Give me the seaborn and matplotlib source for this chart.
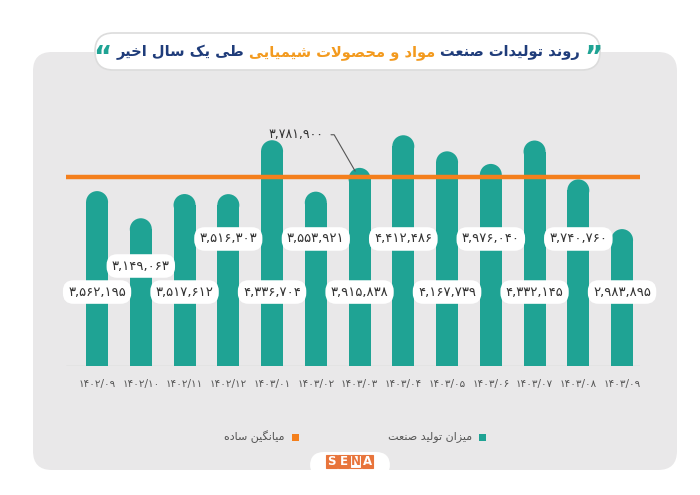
import numpy as np
import pandas as pd
import seaborn as sns
import matplotlib
matplotlib.use("Agg")
import matplotlib.pyplot as plt
from matplotlib.patches import FancyBboxPatch, Rectangle
from matplotlib import transforms

# data
months = ["1402/09", "1402/10", "1402/11", "1402/12", "1403/01", "1403/02", "1403/03",
          "1403/04", "1403/05", "1403/06", "1403/07", "1403/08", "1403/09"]
production = [3562195, 3149063, 3517612, 3516303, 4336704, 3553921, 3915838,
              4412486, 4167739, 3976040, 4332145, 3740760, 2983895]
average = 3781900

title_parts = ["روند تولیدات صنعت", "مواد و محصولات شیمیایی", "طی یک سال اخیر"]
legend_labels = ["میزان تولید صنعت", "میانگین ساده"]

TEAL = "#1fa394"
ORANGE = "#f47f1c"
BLUE = "#1f3c7a"
TITLE_ORANGE = "#f39a1e"
PANEL = "#e9e8e9"
GREY_TXT = "#555555"

# simple persian shaping (presentation forms + rtl)
FORMS = {
    'ا': ('\uFE8D', '\uFE8E'), 'د': ('\uFEA9', '\uFEAA'), 'ر': ('\uFEAD', '\uFEAE'),
    'ز': ('\uFEAF', '\uFEB0'), 'و': ('\uFEED', '\uFEEE'),
    'ت': ('\uFE95', '\uFE96', '\uFE97', '\uFE98'), 'ح': ('\uFEA1', '\uFEA2', '\uFEA3', '\uFEA4'),
    'خ': ('\uFEA5', '\uFEA6', '\uFEA7', '\uFEA8'), 'س': ('\uFEB1', '\uFEB2', '\uFEB3', '\uFEB4'),
    'ش': ('\uFEB5', '\uFEB6', '\uFEB7', '\uFEB8'), 'ص': ('\uFEB9', '\uFEBA', '\uFEBB', '\uFEBC'),
    'ط': ('\uFEC1', '\uFEC2', '\uFEC3', '\uFEC4'), 'ع': ('\uFEC9', '\uFECA', '\uFECB', '\uFECC'),
    'ل': ('\uFEDD', '\uFEDE', '\uFEDF', '\uFEE0'), 'م': ('\uFEE1', '\uFEE2', '\uFEE3', '\uFEE4'),
    'ن': ('\uFEE5', '\uFEE6', '\uFEE7', '\uFEE8'), 'ه': ('\uFEE9', '\uFEEA', '\uFEEB', '\uFEEC'),
    'ی': ('\uFBFC', '\uFBFD', '\uFBFE', '\uFBFF'), 'ک': ('\uFB8E', '\uFB8F', '\uFB90', '\uFB91'),
    'گ': ('\uFB92', '\uFB93', '\uFB94', '\uFB95'),
}


def shape(s):
    out = []
    i = 0
    while i < len(s):
        c = s[i]
        if c not in FORMS:
            out.append(c)
            i += 1
            continue
        prev = s[i - 1] if i > 0 else None
        prev_joins = prev in FORMS and len(FORMS[prev]) == 4
        if c == 'ل' and i + 1 < len(s) and s[i + 1] == 'ا':
            out.append('\uFEFC' if prev_joins else '\uFEFB')
            i += 2
            continue
        nxt = s[i + 1] if i + 1 < len(s) else None
        f = FORMS[c]
        next_joins = len(f) == 4 and nxt in FORMS
        if prev_joins and next_joins:
            g = f[3]
        elif prev_joins:
            g = f[1]
        elif next_joins:
            g = f[2]
        else:
            g = f[0]
        out.append(g)
        i += 1
    return "".join(reversed(out))


FA_DIGITS = str.maketrans("0123456789", "۰۱۲۳۴۵۶۷۸۹")


def fa(s):
    return str(s).translate(FA_DIGITS)


sns.set_theme(style="white")
plt.rcParams['font.family'] = ['DejaVu Sans']

W, H = 700, 495
fig = plt.figure(figsize=(7, 4.95), dpi=100)
fig.patch.set_facecolor("white")

# background panel
panel = FancyBboxPatch((33 / W, 1 - 470 / H), (677 - 33) / W, (470 - 52) / H,
                       boxstyle="round,pad=0,rounding_size=0.027", transform=fig.transFigure,
                       fc=PANEL, ec="none", mutation_aspect=W / H, zorder=-2)
fig.patches.append(panel)

ax = fig.add_axes([66 / W, 1 - 366 / H, 574 / W, 245.7 / H])
ax.set_facecolor("none")

y0, y1 = 900000, 4640000
df = pd.DataFrame({"month": months, "value": production})
sns.barplot(data=df, x="month", y="value", color=TEAL, width=0.5, saturation=1,
            ax=ax, zorder=2)
ax.set_xlim(-0.71, 12.41)
ax.set_ylim(y0, y1)

# rounded caps
axh_px = 245.7
r_px = 11
r_data = r_px * (y1 - y0) / axh_px
for p, v in zip(ax.patches, production):
    p.set_height(v - r_data - p.get_y())
    p.set_edgecolor("none")
ax.scatter(range(len(production)), np.array(production) - r_data, s=(2 * r_px * 0.72) ** 2,
           color=TEAL, edgecolor="none", zorder=3)

ax.axhline(average, color=ORANGE, lw=3.2, zorder=4)
ax.axhline(y0, color="#cfcfcf", lw=1, zorder=1)

for s in ax.spines.values():
    s.set_visible(False)
ax.set_xlabel("")
ax.set_ylabel("")
ax.set_yticks([])
ax.set_xticks(range(len(months)))
ax.set_xticklabels([fa(m) for m in months], fontsize=7.5, color=GREY_TXT)
ax.tick_params(axis="x", length=0, pad=9)

# value labels
blend = transforms.blended_transform_factory(ax.transData, ax.transAxes)
for i, v in enumerate(production):
    if i % 2 == 0:
        ly = 0.301
    elif v < 3300000:
        ly = 0.407
    else:
        ly = 0.517
    ax.text(i, ly, fa(f"{v:,}"), transform=blend, ha="center", va="center",
            fontsize=9.5, color="#333333", zorder=6,
            bbox=dict(boxstyle="round,pad=0.4,rounding_size=0.8", fc="white", ec="none"))

# average label
ax.annotate(fa(f"{average:,}"), xy=(5.9, average + 0.5 * r_data), xytext=(4.55, 4420000),
            ha="center", va="center", fontsize=9, color="#333333", zorder=6,
            arrowprops=dict(arrowstyle="-", color="#555555", lw=0.8,
                            connectionstyle="angle,angleA=0,angleB=120,rad=0",
                            shrinkA=3, shrinkB=0))

# title pill
pill = FancyBboxPatch((95 / W, 1 - 70 / H), (600 - 95) / W, 37 / H,
                      boxstyle="round,pad=0,rounding_size=0.026", transform=fig.transFigure,
                      fc="white", ec="#dcdcdc", lw=1.2, mutation_aspect=W / H, zorder=1)
fig.patches.append(pill)

renderer = fig.canvas.get_renderer()
ty = 1 - 52 / H
pieces = [("\u201c", TEAL, 20), (shape(title_parts[2]), BLUE, 10.5),
          (shape(title_parts[1]), TITLE_ORANGE, 10.5), (shape(title_parts[0]), BLUE, 10.5),
          ("\u201d", TEAL, 20)]
texts = []
widths = []
for s, c, fs in pieces:
    t = fig.text(0, ty, s, color=c, fontsize=fs, fontweight="bold", ha="left",
                 va="center", zorder=3)
    texts.append(t)
    widths.append(t.get_window_extent(renderer).width)
gap = 5
total = sum(widths) + gap * (len(widths) - 1)
x = 348 - total / 2
for t, w in zip(texts, widths):
    t.set_x(x / W)
    x += w + gap
texts[0].set_y(ty - 0.012)
texts[-1].set_y(ty - 0.012)

# legend
ly = 1 - 437 / H
fig.patches.append(Rectangle((479 / W, ly - 3.5 / H), 7 / W, 7 / H, transform=fig.transFigure,
                             fc=TEAL, ec="none"))
fig.text(472 / W, ly, shape(legend_labels[0]), ha="right", va="center", fontsize=8,
         color=GREY_TXT)
fig.patches.append(Rectangle((292 / W, ly - 3.5 / H), 7 / W, 7 / H, transform=fig.transFigure,
                             fc=ORANGE, ec="none"))
fig.text(285 / W, ly, shape(legend_labels[1]), ha="right", va="center", fontsize=8,
         color=GREY_TXT)

# logo
logo = FancyBboxPatch((310 / W, 1 - 478 / H), 80 / W, 26 / H,
                      boxstyle="round,pad=0,rounding_size=0.02", transform=fig.transFigure,
                      fc="white", ec="none", mutation_aspect=W / H, zorder=1)
fig.patches.append(logo)
for k, ch in enumerate("SENA"):
    x0 = 326 + k * 12
    fc = "white" if ch == "N" else "#e8743b"
    tc = "#e8743b" if ch == "N" else "white"
    fig.patches.append(Rectangle((x0 / W, 1 - 468 / H), 11 / W, 13 / H, transform=fig.transFigure,
                                 fc=fc, ec="#e8743b", lw=0.8, zorder=2))
    fig.text((x0 + 5.5) / W, 1 - 461.5 / H, ch, ha="center", va="center", fontsize=8.5,
             fontweight="bold", color=tc, zorder=3)

fig.savefig("out.png", dpi=100, facecolor="white")
